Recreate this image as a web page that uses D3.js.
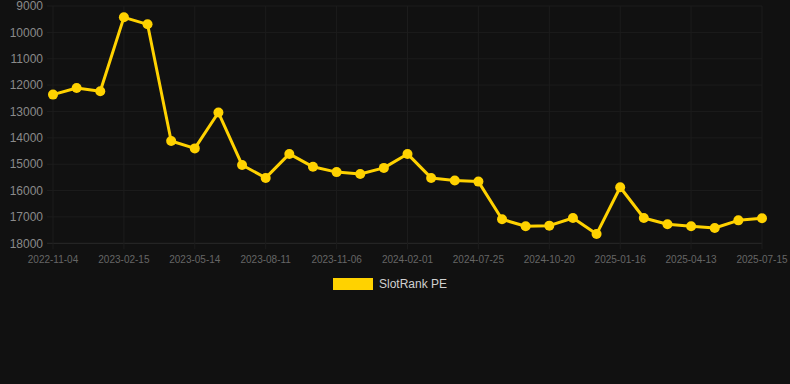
<!DOCTYPE html>
<html><head><meta charset="utf-8">
<script src="https://cdn.jsdelivr.net/npm/d3@7/dist/d3.min.js"></script>
<style>html,body{margin:0;padding:0;background:#111111;}svg{display:block;}</style>
</head><body>
<svg id="c" width="790" height="384"></svg>
<script>
const dates = ["2022-11-04","2022-12-08","2023-01-11","2023-02-15","2023-03-15","2023-04-14","2023-05-14","2023-06-13","2023-07-12","2023-08-11","2023-09-08","2023-10-07","2023-11-06","2023-12-04","2024-01-02","2024-02-01","2024-04-03","2024-05-29","2024-07-25","2024-08-22","2024-09-20","2024-10-20","2024-11-18","2024-12-17","2025-01-16","2025-02-12","2025-03-14","2025-04-13","2025-05-14","2025-06-14","2025-07-15"];
const values = [12360,12110,12235,9430,9695,14120,14400,13040,15030,15520,14610,15100,15300,15370,15140,14610,15520,15620,15660,17090,17355,17330,17040,17650,15875,17040,17280,17355,17420,17130,17050];
const yTicks = [9000,10000,11000,12000,13000,14000,15000,16000,17000,18000];
const seriesName = "SlotRank PE";

(function () {
const svg = d3.select("#c");
const pL = 53, pR = 762, pT = 6, pB = 243.3;
const x = d3.scalePoint().domain(dates).range([pL, pR]);
const y = d3.scaleLinear().domain([9000, 18000]).range([pT, pB]);
const grid = "#1c1c1c";
const font = "'Liberation Sans', Arial, Helvetica, sans-serif";

// horizontal grid
svg.append("g").selectAll("line").data(yTicks).join("line")
  .attr("x1", pL - 6).attr("x2", pR)
  .attr("y1", d => y(d)).attr("y2", d => y(d))
  .attr("stroke", d => d === 18000 ? "#2a2a2a" : grid).attr("stroke-width", 1);
// vertical grid at labelled ticks
const shown = dates.filter((d, i) => i % 3 === 0);
svg.append("g").selectAll("line").data(shown).join("line")
  .attr("x1", d => x(d)).attr("x2", d => x(d))
  .attr("y1", pT).attr("y2", pB + 6)
  .attr("stroke", grid).attr("stroke-width", 1);

// y labels
svg.append("g").selectAll("text").data(yTicks).join("text")
  .attr("x", 43).attr("y", d => y(d)).attr("dy", "0.35em")
  .attr("text-anchor", "end").attr("fill", "#8a8a8a")
  .attr("font-family", font).attr("font-size", 12).text(d => d);
// x labels
svg.append("g").selectAll("text").data(shown).join("text")
  .attr("x", d => x(d)).attr("y", 259).attr("dy", "0.35em")
  .attr("text-anchor", "middle").attr("fill", "#666666")
  .attr("font-family", font).attr("font-size", 10).text(d => d);

// line
const color = "#FFD200";
svg.append("path").datum(values)
  .attr("fill", "none").attr("stroke", color).attr("stroke-width", 3)
  .attr("stroke-linejoin", "round")
  .attr("d", d3.line().x((d, i) => x(dates[i])).y(d => y(d)));
svg.append("g").selectAll("circle").data(values).join("circle")
  .attr("cx", (d, i) => x(dates[i])).attr("cy", d => y(d)).attr("r", 5)
  .attr("fill", color);

// legend
svg.append("rect").attr("x", 333).attr("y", 278).attr("width", 40).attr("height", 12).attr("fill", color);
svg.append("text").attr("x", 379).attr("y", 284).attr("dy", "0.35em")
  .attr("fill", "#d0d0d0").attr("font-family", font).attr("font-size", 12).text(seriesName);
})();
</script>
</body></html>
